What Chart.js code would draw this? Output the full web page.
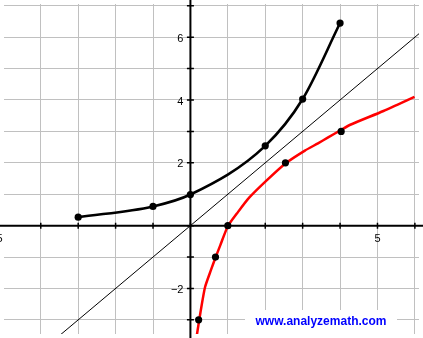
<!DOCTYPE html>
<html>
<head>
<meta charset="utf-8">
<script src="https://cdn.jsdelivr.net/npm/chart.js@4"></script>
<style>
  html, body { margin: 0; padding: 0; background: #fff; }
  canvas { display: block; }
</style>
</head>
<body>
<canvas id="chart" width="423" height="338"></canvas>
<script>
// visible window of the plot
const xRange = [-4.983, 6.11];
const yRange = [-3.45, 7.056];

// tick labels shown next to the axes
const xLabelValues = [-5, 5];
const yLabelValues = [6, 4, 2, -2];

// exponential curve (black) and its marked points
const expX = [-3, -1, 0, 2, 3, 4];
const expY = [0.27, 0.61, 0.99, 2.54, 4.03, 6.45];

// logarithm curve (red)
const logX = [0.17, 0.27, 0.39, 0.55, 0.67, 0.80, 1.0, 1.27, 1.57, 2.01, 2.54, 3.06, 3.41, 3.67, 4.03, 4.29, 5.16, 5.99];
const logY = [-3.5, -2.75, -1.96, -1.41, -1.02, -0.62, -0.02, 0.43, 0.89, 1.41, 1.98, 2.39, 2.62, 2.80, 3.05, 3.22, 3.65, 4.10];

// marked points on the red curve
const logDotX = [0.22, 0.67, 1.0, 2.54, 4.03];
const logDotY = [-3.0, -1.0, 0.0, 2.0, 3.0];

// the line y = x
const diagX = [-5, 7];
const diagY = [-5, 7];

function toPoints(xs, ys) {
    return xs.map((x, i) => ({ x: x, y: ys[i] }));
}

// axes through the origin, small ticks, labels and the site note
const axesPlugin = {
    id: "axesThroughOrigin",
    beforeDatasetsDraw(chart) {
        const ctx = chart.ctx;
        const xs = chart.scales.x, ys = chart.scales.y;
        const w = chart.width, h = chart.height;
        const x0 = xs.getPixelForValue(0);
        const y0 = ys.getPixelForValue(0);

        ctx.save();
        ctx.strokeStyle = "#000";
        ctx.lineWidth = 2;
        ctx.beginPath();
        ctx.moveTo(0, y0); ctx.lineTo(w, y0);
        ctx.moveTo(x0, 0); ctx.lineTo(x0, h);
        ctx.stroke();

        // tick marks at every grid line
        ctx.lineWidth = 1.5;
        ctx.beginPath();
        xs.ticks.forEach(t => {
            const px = xs.getPixelForValue(t.value);
            ctx.moveTo(px, y0 - 3); ctx.lineTo(px, y0 + 3);
        });
        ys.ticks.forEach(t => {
            const py = ys.getPixelForValue(t.value);
            ctx.moveTo(x0 - 3.5, py); ctx.lineTo(x0 + 3.5, py);
        });
        ctx.stroke();

        ctx.fillStyle = "#000";
        ctx.font = '11px "Liberation Sans", Arial, sans-serif';
        ctx.textBaseline = "middle";
        ctx.textAlign = "right";
        yLabelValues.forEach(v => {
            const label = v < 0 ? "\u2212" + Math.abs(v) : String(v);
            ctx.fillText(label, x0 - 7, ys.getPixelForValue(v) + 1.5);
        });
        ctx.textAlign = "center";
        xLabelValues.forEach(v => {
            const label = v < 0 ? "\u2212" + Math.abs(v) : String(v);
            ctx.fillText(label, xs.getPixelForValue(v) - (v < 0 ? 7 : 0), y0 + 13);
        });
        ctx.restore();
    },
    afterDraw(chart) {
        const ctx = chart.ctx;
        ctx.save();
        ctx.fillStyle = "#fff";
        ctx.fillRect(245, 310, 152, 28);
        ctx.fillStyle = "#0000ff";
        ctx.font = 'bold 12px "Liberation Sans", Arial, sans-serif';
        ctx.textAlign = "center";
        ctx.textBaseline = "alphabetic";
        ctx.fillText("www.analyzemath.com", 321, 325);
        ctx.restore();
    }
};

const ctx = document.getElementById("chart").getContext("2d");
new Chart(ctx, {
    type: "line",
    data: {
        datasets: [
            {
                label: "exp points",
                data: toPoints(expX, expY),
                cubicInterpolationMode: "monotone",
                borderColor: "#000",
                borderWidth: 2.6,
                pointRadius: 3.6,
                pointBackgroundColor: "#000",
                pointBorderWidth: 0,
                order: 1
            },
            {
                label: "log points",
                data: toPoints(logDotX, logDotY),
                showLine: false,
                pointRadius: 3.6,
                pointBackgroundColor: "#000",
                pointBorderWidth: 0,
                order: 2
            },
            {
                label: "log",
                data: toPoints(logX, logY),
                tension: 0.2,
                borderColor: "#ff0000",
                borderWidth: 2.5,
                pointRadius: 0,
                order: 3
            },
            {
                label: "y = x",
                data: toPoints(diagX, diagY),
                borderColor: "#000",
                borderWidth: 1,
                pointRadius: 0,
                order: 4
            }
        ]
    },
    options: {
        responsive: false,
        animation: false,
        layout: { padding: 0 },
        plugins: {
            legend: { display: false },
            tooltip: { enabled: false }
        },
        scales: {
            x: {
                type: "linear",
                min: xRange[0],
                max: xRange[1],
                ticks: { display: false, stepSize: 1, includeBounds: false },
                grid: { color: "#c0c0c0", lineWidth: 1, drawTicks: false },
                border: { display: false }
            },
            y: {
                type: "linear",
                min: yRange[0],
                max: yRange[1],
                ticks: { display: false, stepSize: 1, includeBounds: false },
                grid: { color: "#c0c0c0", lineWidth: 1, drawTicks: false },
                border: { display: false }
            }
        }
    },
    plugins: [axesPlugin]
});
</script>
</body>
</html>
